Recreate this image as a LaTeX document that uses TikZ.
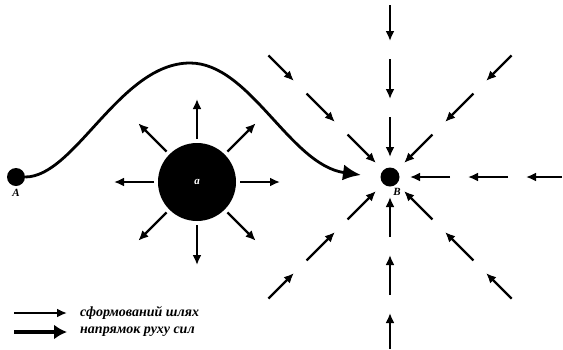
\documentclass[tikz,border=0pt]{standalone}
\usepackage{fontspec}
\setmainfont{Liberation Serif}
\usetikzlibrary{arrows.meta,calc}
\begin{document}
\begin{tikzpicture}[x=1pt,y=-1pt,
  thinarr/.style={line width=2.2pt,-{Latex[length=10pt,width=9pt]}},
  legthick/.style={line width=3.6pt,-{Latex[length=13pt,width=15pt]}},
  patharr/.style={line width=2.8pt,-{Latex[length=18pt,width=16pt]}},
  dot/.style={circle,fill=black,inner sep=0pt,minimum size=18pt},
  ptlabel/.style={font=\bfseries\itshape\fontsize{11}{11}\selectfont,inner sep=0pt},
  legtext/.style={font=\bfseries\itshape\fontsize{14}{14}\selectfont,anchor=west,inner sep=0pt}]
\useasboundingbox (0,0) rectangle (563,349);
% points
\node[dot] (A) at (16,177) {};
\node[ptlabel] (labA) at (16,193) {A};
\node[circle,fill=black,inner sep=0pt,minimum size=78pt,text=white,
      font=\bfseries\itshape\fontsize{11}{11}\selectfont] (a) at (197,182) {a};
\node[dot,minimum size=19pt] (B) at (390,177) {};
\node[ptlabel] (labB) at (397,192) {B};
% radial arrows around a
\foreach \ang in {0,45,...,315}
  \draw[thinarr] ($(a)+(\ang:43)$) -- ($(a)+(\ang:83)$);
% converging arrows to B
\foreach \ang in {0,45,90,135,225,270,315}
  \foreach \r/\R in {20/60,78/118,136/172}
    \draw[thinarr] ($(B)+(\ang:\R)$) -- ($(B)+(\ang:\r)$);
% path from A
\coordinate (tip) at (361,175);
\draw[patharr] (A) .. controls (75,177) and (120,63) .. (190,63)
  .. controls (250,63) and (290,165) .. (tip);
% legend
\coordinate (l1s) at (14,313);
\coordinate (l1e) at (67,313);
\coordinate (l2s) at (14,332);
\coordinate (l2e) at (67,332);
\draw[thinarr] (l1s) -- (l1e);
\draw[legthick] (l2s) -- (l2e);
\node[legtext] (t1) at (80,313) {сформований шлях};
\node[legtext] (t2) at (80,332) {напрямок руху сил};
\end{tikzpicture}
\end{document}
